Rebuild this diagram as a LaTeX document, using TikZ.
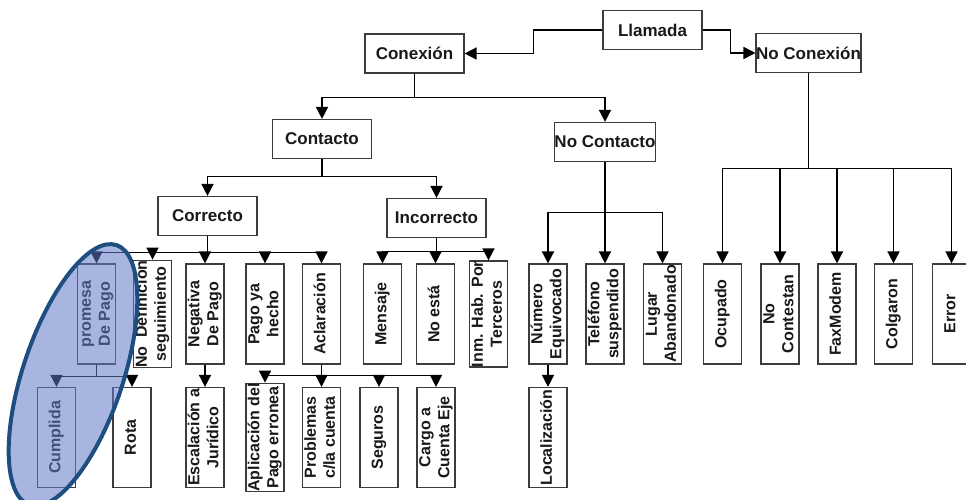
\documentclass[tikz,border=0pt]{standalone}
\usepackage{fontspec}
\setmainfont{Liberation Sans}
\usepackage{graphicx}
\usetikzlibrary{arrows.meta}
\definecolor{boxgray}{RGB}{60,60,60}
\definecolor{txt}{RGB}{25,25,25}
\definecolor{ellfill}{RGB}{97,122,199}
\definecolor{elledge}{RGB}{30,78,128}
% two-line text set upright in a tall box
\newcommand\rotlabel[1]{\rotatebox{90}{\begin{tabular}{@{}c@{}}#1\end{tabular}}}
\begin{document}
\begin{tikzpicture}[x=1pt,y=-1pt,
  box/.style={draw=boxgray,line width=1.2pt,fill=white,inner sep=0pt,text=txt},
  hbox/.style={box,minimum width=99pt,minimum height=39pt,font=\bfseries\fontsize{17}{19}\selectfont},
  vbox/.style={box,minimum width=38pt,minimum height=100pt,font=\bfseries\fontsize{16}{19}\selectfont},
  link/.style={line width=1.6pt,draw=black},
  arr/.style={link,-{Triangle[width=12pt,length=12pt]}},
]
\fill[white] (0,0) rectangle (966,499);
\useasboundingbox (0,0) rectangle (966,499);

% top levels
\node[hbox] (llamada)     at (652.5,30)  {Llamada};
\node[hbox] (conexion)    at (414.5,53.5) {Conexión};
\node[hbox] (noconexion)  at (808.5,53)  {No Conexión};
\node[hbox] (contacto)    at (322,139)   {Contacto};
\node[hbox] (nocontacto)  at (605,142)   {No Contacto};
\node[hbox] (correcto)    at (207.5,216) {Correcto};
\node[hbox] (incorrecto)  at (436.5,218) {Incorrecto};

% first row of outcomes
\node[vbox] (promesa)    at (96.5,314)  {\rotlabel{promesa\\De Pago}};
\node[vbox] (nodef)      at (152.5,314) {\rotlabel{No\ \ Definición\\seguimiento}};
\node[vbox] (negativa)   at (205,314)   {\rotlabel{Negativa\\De Pago}};
\node[vbox] (pagohecho)  at (265,314)   {\rotlabel{Pago ya\\hecho}};
\node[vbox] (aclaracion) at (321.5,314) {\rotlabel{Aclaración}};
\node[vbox] (mensaje)    at (382.5,314) {\rotlabel{Mensaje}};
\node[vbox] (noesta)     at (435.5,314) {\rotlabel{No está}};
\node[vbox] (inm)        at (488.5,314) {\rotlabel{Inm. Hab. Por\\Terceros}};
\node[vbox] (numero)     at (548,314)   {\rotlabel{Número\\Equivocado}};
\node[vbox] (telefono)   at (605,314)   {\rotlabel{Teléfono\\suspendido}};
\node[vbox] (lugar)      at (662.5,314) {\rotlabel{Lugar\\Abandonado}};
\node[vbox] (ocupado)    at (722.5,314) {\rotlabel{Ocupado}};
\node[vbox] (nocontestan) at (780,314)  {\rotlabel{No\\Contestan}};
\node[vbox] (faxmodem)   at (837,314)   {\rotlabel{FaxModem}};
\node[vbox] (colgaron)   at (893.5,314) {\rotlabel{Colgaron}};
\node[vbox] (error)      at (951.5,314) {\rotlabel{Error}};

% second row of outcomes
\node[vbox] (cumplida)    at (56.5,437.5) {\rotlabel{Cumplida}};
\node[vbox] (rota)        at (132,437.5)  {\rotlabel{Rota}};
\node[vbox] (escalacion)  at (205,437.5)  {\rotlabel{Escalación a\\Jurídico}};
\node[vbox] (aplicacion)  at (265,437.5)  {\rotlabel{Aplicación del\\Pago erronea}};
\node[vbox] (problemas)   at (321.5,437.5) {\rotlabel{Problemas\\c/la cuenta}};
\node[vbox] (seguros)     at (379,437.5)  {\rotlabel{Seguros}};
\node[vbox] (cargo)       at (436,437.5)  {\rotlabel{Cargo a\\Cuenta Eje}};
\node[vbox] (localizacion) at (548,437.5) {\rotlabel{Localización}};

% connectors
\draw[arr] (llamada.west) -- ++(-69,0) |- (conexion.east);
\draw[arr] (llamada.east) -- ++(28,0) |- (noconexion.west);
\foreach \c in {contacto,nocontacto}
  \draw[arr] (conexion.south) -- ++(0,24) -| (\c.north);
\foreach \c in {correcto,incorrecto}
  \draw[arr] (contacto.south) -- ++(0,17.5) -| (\c.north);
\foreach \c in {promesa,nodef,negativa,pagohecho,aclaracion}
  \draw[arr] (correcto.south) -- ++(0,16.5) -| (\c.north);
\foreach \c in {mensaje,noesta,inm}
  \draw[arr] (incorrecto.south) -- ++(0,13.5) -| (\c.north);
\foreach \c in {numero,telefono,lugar}
  \draw[arr] (nocontacto.south) -- ++(0,50.5) -| (\c.north);
\foreach \c in {ocupado,nocontestan,faxmodem,colgaron,error}
  \draw[arr] (noconexion.south) -- ++(0,95.5) -| (\c.north);
\foreach \c in {cumplida,rota}
  \draw[arr] (promesa.south) -- ++(0,12) -| (\c.north);
\foreach \c in {aplicacion,problemas,seguros,cargo}
  \draw[arr] (aclaracion.south) -- ++(0,11) -| (\c.north);
\draw[arr] (negativa.south) -- (escalacion.north);
\draw[arr] (numero.south) -- (localizacion.north);

% highlight round the promise branch
\begin{scope}[shift={(73,375)},rotate=71.5]
  \fill[ellfill,fill opacity=0.55] (0,0) ellipse [x radius=137, y radius=50];
  \draw[elledge,line width=4pt] (0,0) ellipse [x radius=137, y radius=50];
\end{scope}
\end{tikzpicture}
\end{document}
